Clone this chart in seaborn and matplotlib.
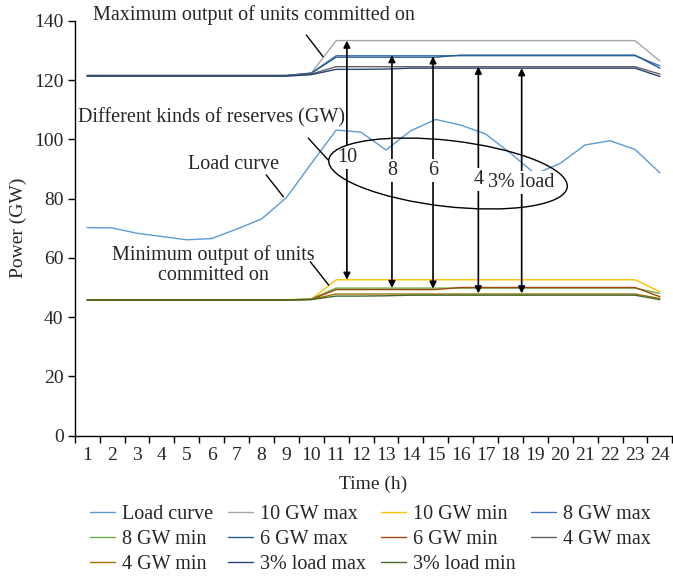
import numpy as np
import pandas as pd
import matplotlib
matplotlib.use("Agg")
import matplotlib.pyplot as plt
from matplotlib.patches import Ellipse
import seaborn as sns

hours = list(range(1, 25))
hour_labels = [str(h) for h in hours]

load_curve = [70.2, 70.1, 68.3, 67.2, 66.1, 66.5, 69.7, 73.1, 80.3, 91.8, 103.1, 102.4,
              96.4, 102.9, 106.7, 104.8, 101.8, 95.3, 88.3, 91.9, 98.1, 99.5, 96.6, 88.7]
max_10 = [121.5, 121.5, 121.5, 121.5, 121.5, 121.5, 121.5, 121.5, 121.5, 122.3, 133.3, 133.3,
          133.3, 133.3, 133.3, 133.3, 133.3, 133.3, 133.3, 133.3, 133.3, 133.3, 133.3, 126.4]
min_10 = [45.8, 45.8, 45.8, 45.8, 45.8, 45.8, 45.8, 45.8, 45.8, 46.0, 52.6, 52.6,
          52.6, 52.6, 52.6, 52.6, 52.6, 52.6, 52.6, 52.6, 52.6, 52.6, 52.6, 48.6]
max_8 = [121.5, 121.5, 121.5, 121.5, 121.5, 121.5, 121.5, 121.5, 121.5, 122.3, 128.2, 128.2,
         128.2, 128.2, 128.2, 128.2, 128.2, 128.2, 128.2, 128.2, 128.2, 128.2, 128.2, 124.8]
min_8 = [45.9, 45.9, 45.9, 45.9, 45.9, 45.9, 45.9, 45.9, 45.9, 46.1, 49.8, 49.8,
         49.8, 49.8, 49.8, 49.8, 49.8, 49.8, 49.8, 49.8, 49.8, 49.8, 49.8, 48.0]
max_6 = [121.5, 121.5, 121.5, 121.5, 121.5, 121.5, 121.5, 121.5, 121.5, 122.3, 127.7, 127.7,
         127.7, 127.7, 127.7, 128.4, 128.4, 128.4, 128.4, 128.4, 128.4, 128.4, 128.4, 124.0]
min_6 = [45.8, 45.8, 45.8, 45.8, 45.8, 45.8, 45.8, 45.8, 45.8, 46.0, 49.3, 49.3,
         49.3, 49.3, 49.3, 50.0, 50.0, 50.0, 50.0, 50.0, 50.0, 50.0, 50.0, 46.9]
max_4 = [121.5, 121.5, 121.5, 121.5, 121.5, 121.5, 121.5, 121.5, 121.5, 122.0, 124.5, 124.5,
         124.5, 124.5, 124.5, 124.5, 124.5, 124.5, 124.5, 124.5, 124.5, 124.5, 124.5, 122.0]
min_4 = [45.8, 45.8, 45.8, 45.8, 45.8, 45.8, 45.8, 45.8, 45.8, 46.0, 47.8, 47.8,
         47.8, 47.8, 47.8, 47.8, 47.8, 47.8, 47.8, 47.8, 47.8, 47.8, 47.8, 46.3]
max_3pct = [121.3, 121.3, 121.3, 121.3, 121.3, 121.3, 121.3, 121.3, 121.3, 121.8, 123.6, 123.6,
            123.7, 124.0, 124.0, 124.0, 124.0, 124.0, 124.0, 124.0, 124.0, 124.0, 124.0, 121.2]
min_3pct = [45.7, 45.7, 45.7, 45.7, 45.7, 45.7, 45.7, 45.7, 45.7, 45.9, 47.1, 47.1,
            47.2, 47.4, 47.4, 47.4, 47.4, 47.4, 47.4, 47.4, 47.4, 47.4, 47.4, 45.9]

series_names = ["Load curve", "10 GW max", "10 GW min", "8 GW max", "8 GW min",
                "6 GW max", "6 GW min", "4 GW max", "4 GW min", "3% load max", "3% load min"]
series_values = [load_curve, max_10, min_10, max_8, min_8, max_6, min_6,
                 max_4, min_4, max_3pct, min_3pct]
series_colors = ["#5B9BD5", "#A5A5A5", "#FFC000", "#4472C4", "#70AD47",
                 "#255E91", "#9E480E", "#636363", "#997300", "#264478", "#43682B"]

# reserve arrows (annotation)
arrow_labels = ["10", "8", "6", "4", "3% load"]
arrow_x = [11.43, 13.24, 14.89, 16.71, 18.45]
arrow_top = [133.3, 128.4, 128.0, 124.5, 124.0]
arrow_bottom = [52.6, 49.8, 49.6, 48.0, 48.0]
arrow_label_y = [94.0, 89.6, 89.6, 86.3, 85.4]

sns.set_style("ticks")
plt.rcParams["font.family"] = ["Liberation Serif", "DejaVu Serif"]
plt.rcParams["font.size"] = 14

FS = 14.5

rows = []
for name, vals in zip(series_names, series_values):
    for h, v in zip(hours, vals):
        rows.append({"hour": h, "value": v, "series": name})
df = pd.DataFrame(rows)

fig = plt.figure(figsize=(6.73, 5.76), dpi=100)
ax = fig.add_axes([0.111, 0.2436, 0.888, 0.7204])

sns.lineplot(data=df, x="hour", y="value", hue="series", hue_order=series_names,
             palette=dict(zip(series_names, series_colors)), linewidth=1.0, ax=ax,
             legend=True)

ax.set_xlim(0.5, 24.5)
ax.set_ylim(0, 140)
ax.set_yticks(np.arange(0, 141, 20))
ax.set_xticks(hours)
ax.set_xticklabels(hour_labels)
ax.set_xticks(np.arange(0.5, 25, 1), minor=True)
ax.tick_params(axis="x", which="major", length=0, labelsize=14, pad=8.5)
ax.tick_params(axis="x", which="minor", length=5, width=1, color="black", direction="out")
ax.tick_params(axis="y", which="major", length=5, width=1, color="black", labelsize=14, pad=3)
for s in ["top", "right"]:
    ax.spines[s].set_visible(False)
for s in ["left", "bottom"]:
    ax.spines[s].set_color("black")
    ax.spines[s].set_linewidth(1.0)
ax.set_xlabel("Time (h)", fontsize=14, labelpad=8)
ax.set_ylabel("Power (GW)", fontsize=14, labelpad=5)

# arrows
for x, t, b in zip(arrow_x, arrow_top, arrow_bottom):
    ax.annotate("", xy=(x, t), xytext=(x, b),
                arrowprops=dict(arrowstyle="<|-|>", color="black", lw=1.2,
                                mutation_scale=10, shrinkA=0, shrinkB=0), zorder=5)
for lab, x, y in zip(arrow_labels, arrow_x, arrow_label_y):
    ax.text(x, y, lab, ha="center", va="center", fontsize=FS, zorder=6,
            bbox=dict(facecolor="white", edgecolor="none", pad=1.5))

# ellipse around labels
ell = Ellipse((4.48, 4.025), 2.40, 0.66, angle=-6.5, fill=False, edgecolor="black",
              linewidth=1.0, transform=fig.dpi_scale_trans, zorder=7)
fig.add_artist(ell)

# text annotations with leader lines
ax.text(1.24, 141.9, "Maximum output of units committed on", ha="left", va="center",
        fontsize=FS, clip_on=False)
ax.plot([9.8, 10.47], [135.2, 127.9], color="black", lw=1.0, clip_on=False)
ax.text(0.64, 107.2, "Different kinds of reserves (GW)", ha="left", va="center",
        fontsize=FS, zorder=6, bbox=dict(facecolor="white", edgecolor="none", pad=0.3))
ax.plot([9.88, 10.68], [100.4, 93.0], color="black", lw=1.0)
ax.text(6.87, 91.5, "Load curve", ha="center", va="center", fontsize=FS)
ax.plot([8.19, 8.88], [88.0, 80.6], color="black", lw=1.0)
ax.text(6.06, 57.6, "Minimum output of units\ncommitted on", ha="center", va="center",
        fontsize=FS, linespacing=1.12)
ax.plot([9.96, 10.7], [58.7, 50.8], color="black", lw=1.0)

handles, labels = ax.get_legend_handles_labels()
ax.get_legend().remove()
hmap = dict(zip(labels, handles))
order = [0, 4, 8, 1, 5, 9, 2, 6, 10, 3, 7]
fig.legend([hmap[series_names[i]] for i in order], [series_names[i] for i in order],
           loc="upper left", bbox_to_anchor=(0.1337, 0.124), ncol=4, frameon=False,
           fontsize=FS, handlelength=1.24, handletextpad=0.35, columnspacing=0.75,
           labelspacing=0.3, borderpad=0, borderaxespad=0)

fig.savefig("out.png", dpi=100)
